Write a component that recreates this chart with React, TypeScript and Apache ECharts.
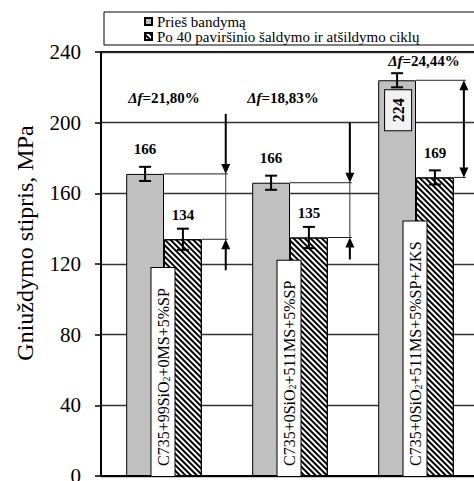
import React, { useEffect, useRef } from 'react';
import * as echarts from 'echarts';

const categories = ['C735+99SiO2+0MS+5%SP', 'C735+0SiO2+511MS+5%SP', 'C735+0SiO2+511MS+5%SP+ZKS'];
const seriesNames = ['Prieš bandymą', 'Po 40 paviršinio šaldymo ir atšildymo ciklų'];
const beforeValues = [171, 166, 224];
const afterValues = [134, 135, 169];
const beforeLabels = ['166', '166', '224'];
const afterLabels = ['134', '135', '169'];
const beforeErrors = [4, 4, 4];
const afterErrors = [6, 6, 4];
const deltaLabels = ['21,80%', '18,83%', '24,44%'];
const yAxisTitle = 'Gniuždymo stipris, MPa';
const yMin = 0;
const yMax = 240;
const yStep = 40;

const FONT = '"Liberation Serif", "Times New Roman", serif';

const richCategory = (s: string) => {
  const parts = s.split('SiO2');
  return `{n|${parts[0]}SiO}{s|2}{n|${parts[1]}}`;
};

export default function App() {
  const ref = useRef<HTMLDivElement>(null);
  useEffect(() => {
    document.body.style.margin = '0';
    const chart = echarts.init(ref.current!, undefined, { renderer: 'svg' });
    const hatch = {
      symbol: 'rect',
      symbolSize: 1,
      dashArrayX: [1, 0],
      dashArrayY: [1.5, 2],
      rotation: Math.PI / 4,
      color: '#000',
      backgroundColor: '#fff',
    };
    const renderItem = (params: any, api: any) => {
      const i = params.dataIndex;
      const cx = api.coord([i, 0])[0];
      const y0 = api.coord([i, 0])[1];
      const band = api.size([1, 0])[0];
      const bw = band * 0.3;
      const yOf = (v: number) => api.coord([i, v])[1];
      const gx = cx - bw / 2;
      const hx = cx + bw / 2;
      const children: any[] = [];
      const ln = (x1: number, y1: number, x2: number, y2: number, w: number, c = '#000') =>
        children.push({ type: 'line', shape: { x1, y1, x2, y2 }, style: { stroke: c, lineWidth: w } });
      const errBar = (x: number, v: number, e: number) => {
        const t = yOf(v + e);
        const b = yOf(v - e);
        ln(x, t, x, b, 2);
        ln(x - 6, t, x + 6, t, 2);
        ln(x - 6, b, x + 6, b, 2);
      };
      const arrow = (x: number, tip: number, dir: number) =>
        children.push({
          type: 'polygon',
          shape: { points: [[x, tip], [x - 4.5, tip - dir * 10], [x + 4.5, tip - dir * 10]] },
          style: { fill: '#000' },
        });
      errBar(gx, beforeValues[i], beforeErrors[i]);
      errBar(hx, afterValues[i], afterErrors[i]);

      const yg = yOf(beforeValues[i]);
      const yh = yOf(afterValues[i]);
      const deltaRich = {
        i: { fontFamily: FONT, fontSize: 15, fontWeight: 'bold', fontStyle: 'italic', fill: '#000' },
        b: { fontFamily: FONT, fontSize: 15, fontWeight: 'bold', fill: '#000' },
      };
      if (i < 2) {
        const ax = cx + band * (i === 0 ? 0.49 : 0.475);
        ln(cx, yg, ax + 2, yg, 1, '#222');
        ln(hx + bw / 2, yh, ax + 2, yh, 1, '#222');
        ln(ax, yg, ax, yh, 1, '#333');
        ln(ax, yg - 60, ax, yg - 9, 2);
        arrow(ax, yg, 1);
        ln(ax, yh + 9, ax, yh + (i === 0 ? 31 : 22), 2);
        arrow(ax, yh, -1);
        children.push({
          type: 'text',
          x: cx - (i === 0 ? 0 : 7),
          y: yOf(214),
          style: {
            text: `{i|Δf}{b|=${deltaLabels[i]}}`,
            rich: deltaRich,
            align: 'center',
            verticalAlign: 'middle',
          },
        });
      } else {
        const ax = cx + band * 0.38;
        ln(cx, yg, ax + 2, yg, 1, '#222');
        ln(hx + bw / 2, yh, ax + 2, yh, 1, '#222');
        ln(ax, yg + 9, ax, yh - 9, 2);
        arrow(ax, yg, -1);
        arrow(ax, yh, 1);
        children.push({
          type: 'text',
          x: cx + 8,
          y: yg - 19,
          style: {
            text: `{i|Δf}{b|=${deltaLabels[i]}}`,
            rich: deltaRich,
            align: 'center',
            verticalAlign: 'middle',
          },
        });
        children.push({
          type: 'text',
          x: gx + 1,
          y: yg + 10,
          rotation: Math.PI / 2,
          style: {
            text: beforeLabels[i],
            fontFamily: FONT,
            fontSize: 16,
            fontWeight: 'bold',
            fill: '#000',
            align: 'right',
            verticalAlign: 'middle',
            lineHeight: 20,
            backgroundColor: '#f2f2f2',
            borderColor: '#000',
            borderWidth: 1,
            padding: [3, 8, 3, 8],
          },
        });
      }
      children.push({
        type: 'text',
        x: cx - 1,
        y: y0,
        rotation: Math.PI / 2,
        style: {
          text: richCategory(categories[i]),
          rich: {
            n: { fontFamily: FONT, fontSize: 16, fill: '#000', lineHeight: 17 },
            s: { fontFamily: FONT, fontSize: 10, fill: '#000', verticalAlign: 'bottom', lineHeight: 10 },
          },
          align: 'left',
          verticalAlign: 'middle',
          backgroundColor: '#fff',
          borderColor: '#000',
          borderWidth: 1,
          padding: [3, 20, 3, 10],
        },
      });
      return { type: 'group', children };
    };

    const legendText = { fontFamily: FONT, fontSize: 15, color: '#000', lineHeight: 15 };

    chart.setOption({
      animation: false,
      textStyle: { fontFamily: FONT },
      grid: {
        left: 101,
        top: 52,
        width: 378,
        height: 424,
        show: true,
        borderColor: '#000',
        borderWidth: 2,
        containLabel: false,
        outerBoundsMode: 'none',
      },
      legend: {
        data: seriesNames.map((n) => ({ name: n, textStyle: legendText })),
        orient: 'vertical',
        left: 144,
        top: 14,
        padding: 0,
        itemWidth: 7,
        itemHeight: 7,
        itemGap: 0,
        icon: 'rect',
        textStyle: legendText,
      },
      graphic: [
        {
          type: 'rect',
          x: 104,
          y: 12,
          shape: { x: 0, y: 0, width: 420, height: 33 },
          style: { fill: 'none', stroke: '#000', lineWidth: 1 },
        },
      ],
      xAxis: {
        type: 'category',
        data: categories,
        axisLine: { lineStyle: { color: '#000', width: 2 } },
        axisTick: { show: false },
        axisLabel: { show: false },
      },
      yAxis: {
        type: 'value',
        min: yMin,
        max: yMax,
        interval: yStep,
        name: yAxisTitle,
        nameLocation: 'middle',
        nameGap: 64,
        nameTextStyle: { fontFamily: FONT, fontSize: 24, color: '#000', padding: [0, 0, 0, 42] },
        axisLine: { show: true, lineStyle: { color: '#000', width: 2 } },
        axisTick: { show: true, length: 6, lineStyle: { color: '#000', width: 1.5 } },
        axisLabel: { fontFamily: FONT, fontSize: 21, color: '#000', margin: 20 },
        splitLine: { lineStyle: { color: '#333', width: 1.3 } },
      },
      series: [
        {
          name: seriesNames[0],
          type: 'bar',
          barGap: '0%',
          barCategoryGap: '40%',
          data: beforeValues.map((v, i) => (i === 2 ? { value: v, label: { show: false } } : v)),
          itemStyle: { color: '#c0c0c0', borderColor: '#000', borderWidth: 1 },
          label: {
            show: true,
            position: 'top',
            distance: 17,
            formatter: (p: any) => beforeLabels[p.dataIndex],
            fontFamily: FONT,
            fontSize: 15,
            fontWeight: 'bold',
            color: '#000',
          },
        },
        {
          name: seriesNames[1],
          type: 'bar',
          data: afterValues,
          itemStyle: { color: '#fff', borderColor: '#000', borderWidth: 1, decal: hatch },
          label: {
            show: true,
            position: 'top',
            distance: 17,
            formatter: (p: any) => afterLabels[p.dataIndex],
            fontFamily: FONT,
            fontSize: 15,
            fontWeight: 'bold',
            color: '#000',
          },
        },
        {
          type: 'custom',
          silent: true,
          renderItem,
          encode: { x: 0, y: 1 },
          data: categories.map((_, i) => [i, beforeValues[i]]),
          z: 5,
        },
      ],
    });
    return () => chart.dispose();
  }, []);
  return <div ref={ref} style={{ width: 474, height: 481, position: 'absolute', left: 0, top: 0 }} />;
}
